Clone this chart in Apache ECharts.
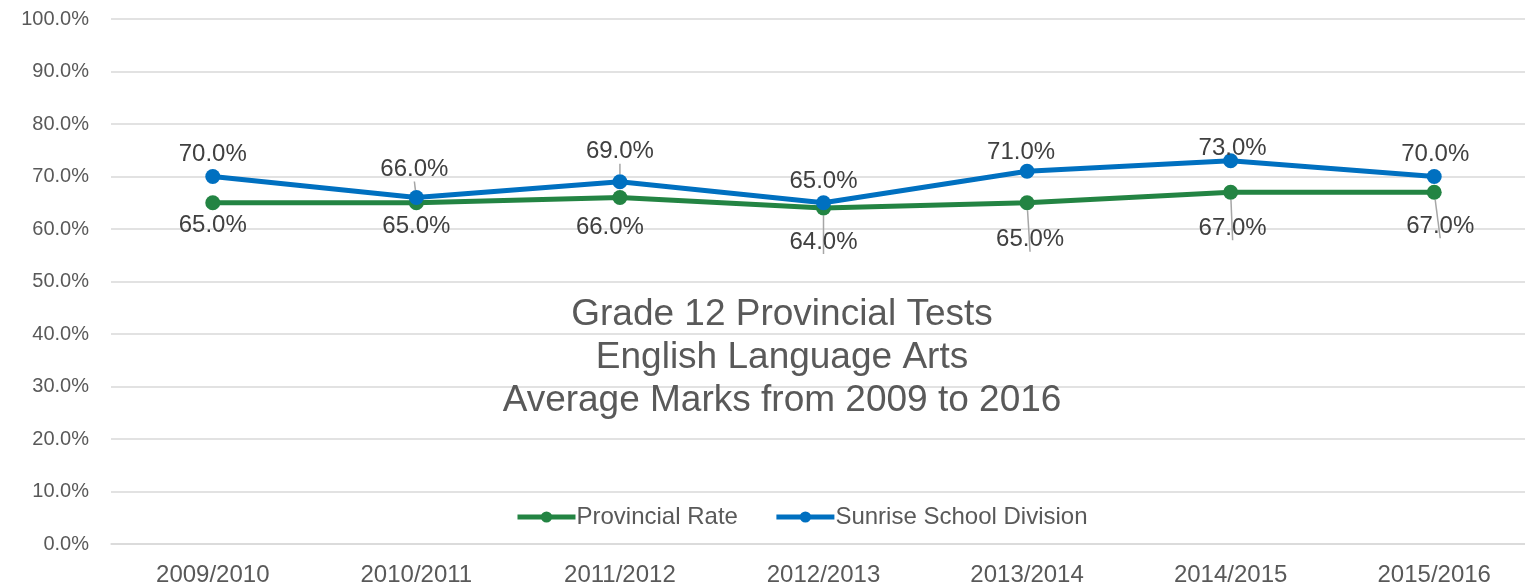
<!DOCTYPE html>
<html>
<head>
<meta charset="utf-8">
<script src="https://cdn.jsdelivr.net/npm/echarts@6/dist/echarts.min.js"></script>
<style>
  html, body { margin: 0; padding: 0; background: #fff; }
  #wrap { width: 1525px; height: 587px; overflow: hidden; position: relative; }
  #chart { width: 1536px; height: 587px; position: absolute; left: 0; top: 0; }
</style>
</head>
<body>
<div id="wrap"><div id="chart"></div></div>
<script>
var years = ['2009/2010', '2010/2011', '2011/2012', '2012/2013', '2013/2014', '2014/2015', '2015/2016'];
var provincial = [65, 65, 66, 64, 65, 67, 67];
var sunrise = [70, 66, 69, 65, 71, 73, 70];

// label nudges [dx, dy] from the point, and which labels get a leader line
var provincialLabelOffset = [[0, 23], [0, 24], [-10, 30], [0, 34], [3, 37], [2, 36], [6, 34]];
var provincialLeader = [false, false, false, true, true, true, true];
var sunriseLabelOffset = [[0, -22], [-2, -28], [0, -30], [0, -21], [-6, -19], [2, -12], [1, -22]];
var sunriseLeader = [false, true, true, false, false, false, false];

var textColor = '#595959';
var font = 'Liberation Sans, Arial, sans-serif';

var buildData = function(values, offsets, leader){
    return values.map(function(v, i){
        return { value: v, label: { offset: offsets[i] }, labelLine: { show: leader[i] } };
    });
};

var chart = echarts.init(document.getElementById('chart'));
chart.setOption({
    animation: false,
    textStyle: { fontFamily: font },
    title: {
        text: 'Grade 12 Provincial Tests\nEnglish Language Arts\nAverage Marks from 2009 to 2016',
        left: 777,
        top: 288,
        textAlign: 'center',
        textStyle: { fontFamily: font, fontSize: 37, fontWeight: 'normal', color: textColor, lineHeight: 43 }
    },
    legend: {
        bottom: 53,
        left: 510,
        itemWidth: 58,
        itemHeight: 14,
        itemGap: 36,
        lineStyle: { width: 5 },
        textStyle: { fontFamily: font, fontSize: 24, color: textColor, padding: [0, 0, 0, -4] },
        data: ['Provincial Rate', 'Sunrise School Division']
    },
    grid: { left: 111, right: 0, top: 19, bottom: 40, containLabel: false },
    xAxis: {
        type: 'category',
        data: years,
        axisLine: { lineStyle: { color: '#d9d9d9', width: 1.5 } },
        axisTick: { show: false },
        axisLabel: { fontFamily: font, fontSize: 24, color: textColor, margin: 19 }
    },
    yAxis: {
        type: 'value',
        min: 0,
        max: 100,
        interval: 10,
        axisLine: { show: false },
        axisTick: { show: false },
        splitLine: { lineStyle: { color: '#d9d9d9', width: 1.5 } },
        axisLabel: {
            fontFamily: font, fontSize: 20, color: textColor, margin: 22,
            formatter: function(v){ return v.toFixed(1) + '%'; }
        }
    },
    series: [
        {
            name: 'Provincial Rate',
            type: 'line',
            data: buildData(provincial, provincialLabelOffset, provincialLeader),
            color: '#238443',
            lineStyle: { width: 5 },
            symbol: 'circle',
            symbolSize: 15,
            label: {
                show: true, position: 'inside', fontFamily: font, fontSize: 24, color: '#404040',
                formatter: function(p){ return p.value.toFixed(1) + '%'; }
            },
            labelLine: { lineStyle: { color: '#a6a6a6', width: 1.5 } },
            z: 2
        },
        {
            name: 'Sunrise School Division',
            type: 'line',
            data: buildData(sunrise, sunriseLabelOffset, sunriseLeader),
            color: '#0070c0',
            lineStyle: { width: 5 },
            symbol: 'circle',
            symbolSize: 15,
            label: {
                show: true, position: 'inside', fontFamily: font, fontSize: 24, color: '#404040',
                formatter: function(p){ return p.value.toFixed(1) + '%'; }
            },
            labelLine: { lineStyle: { color: '#a6a6a6', width: 1.5 } },
            z: 3
        }
    ]
});
</script>
</body>
</html>
